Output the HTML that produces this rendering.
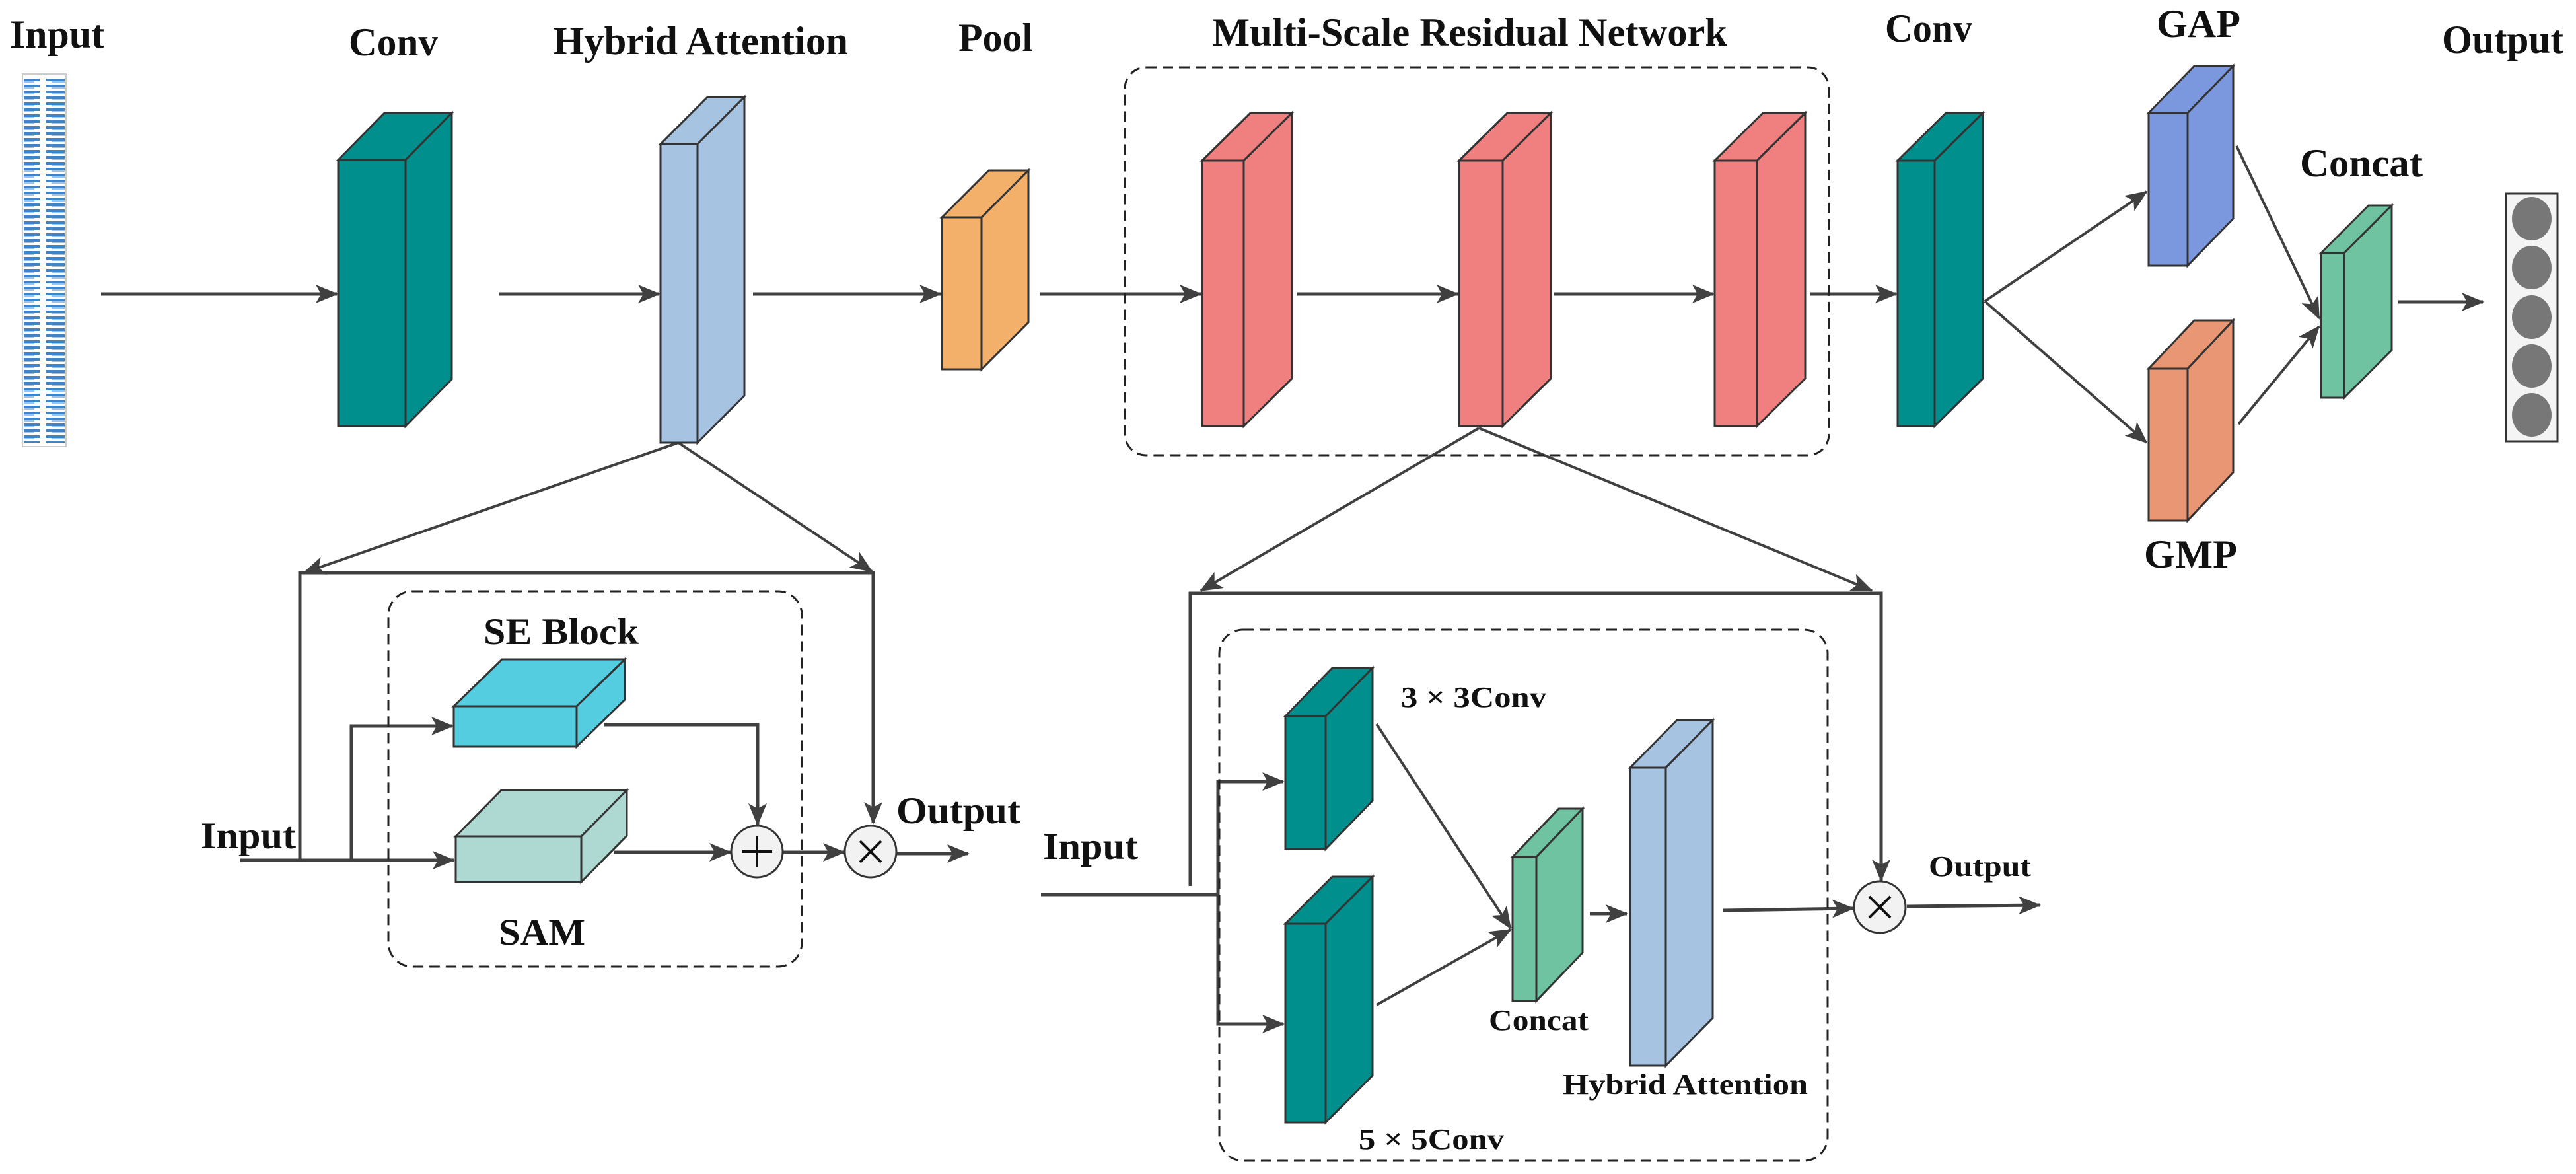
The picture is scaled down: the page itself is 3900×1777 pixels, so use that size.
<!DOCTYPE html>
<html><head><meta charset="utf-8"><style>html,body{margin:0;padding:0;background:#fff}svg{display:block}text{font-family:"Liberation Serif",serif;font-weight:bold;fill:#111}</style></head>
<body>
<svg width="3900" height="1777" viewBox="0 0 3900 1777" xmlns="http://www.w3.org/2000/svg">
<defs>
<marker id="a" markerUnits="userSpaceOnUse" markerWidth="34" markerHeight="30" refX="32" refY="14" orient="auto"><path d="M0,0 L34,14 L0,28 L8,14 z" fill="#404040"/></marker>
<pattern id="st" width="66" height="9" patternUnits="userSpaceOnUse"><rect x="4" y="2" width="56" height="4" fill="#3f84c8"/><rect x="12" y="6" width="40" height="2" fill="#9cc3ea"/></pattern>
</defs>
<g stroke="#404040" stroke-width="5" fill="none">
<!-- top main arrows -->
<line x1="153" y1="445" x2="510" y2="445" marker-end="url(#a)"/>
<line x1="755" y1="445" x2="998" y2="445" marker-end="url(#a)"/>
<line x1="1140" y1="445" x2="1424" y2="445" marker-end="url(#a)"/>
<line x1="1575" y1="445" x2="1818" y2="445" marker-end="url(#a)"/>
<line x1="1964" y1="445" x2="2207" y2="445" marker-end="url(#a)"/>
<line x1="2352" y1="445" x2="2594" y2="445" marker-end="url(#a)"/>
<line x1="2741" y1="445" x2="2871" y2="445" marker-end="url(#a)"/>
<line x1="3005" y1="456" x2="3250" y2="290" stroke-width="4" marker-end="url(#a)"/>
<line x1="3005" y1="456" x2="3250" y2="670" stroke-width="4" marker-end="url(#a)"/>
<line x1="3386" y1="221" x2="3511" y2="482" stroke-width="4" marker-end="url(#a)"/>
<line x1="3389" y1="642" x2="3511" y2="494" stroke-width="4" marker-end="url(#a)"/>
<line x1="3631" y1="457" x2="3759" y2="457" marker-end="url(#a)"/>
<!-- left sub diagram -->
<line x1="1027" y1="670" x2="460" y2="867" stroke-width="4" marker-end="url(#a)"/>
<line x1="1027" y1="670" x2="1320" y2="865" stroke-width="4" marker-end="url(#a)"/>
<polyline points="454,1302 454,867 1322,867 1322,1246" marker-end="url(#a)"/>
<line x1="364" y1="1302" x2="687" y2="1302" marker-end="url(#a)"/>
<polyline points="532,1302 532,1099 685,1099" marker-end="url(#a)"/>
<polyline points="915,1097 1147,1097 1147,1248" marker-end="url(#a)"/>
<line x1="929" y1="1290" x2="1106" y2="1290" marker-end="url(#a)"/>
<line x1="1186" y1="1290" x2="1278" y2="1290" marker-end="url(#a)"/>
<line x1="1358" y1="1292" x2="1466" y2="1292" marker-end="url(#a)"/>
<!-- right sub diagram -->
<line x1="2239" y1="648" x2="1818" y2="894" stroke-width="4" marker-end="url(#a)"/>
<line x1="2239" y1="648" x2="2834" y2="894" stroke-width="4" marker-end="url(#a)"/>
<polyline points="1802,1341 1802,898 2848,898 2848,1333" marker-end="url(#a)"/>
<line x1="1576" y1="1354" x2="1844" y2="1354"/>
<polyline points="1943,1183 1844,1183 1844,1550 1943,1550" />
<line x1="1844" y1="1183" x2="1943" y2="1183" marker-end="url(#a)"/>
<line x1="1844" y1="1550" x2="1943" y2="1550" marker-end="url(#a)"/>
<line x1="2084" y1="1096" x2="2287" y2="1405" stroke-width="4" marker-end="url(#a)"/>
<line x1="2084" y1="1521" x2="2287" y2="1407" stroke-width="4" marker-end="url(#a)"/>
<line x1="2407" y1="1383" x2="2463" y2="1383" marker-end="url(#a)"/>
<line x1="2608" y1="1378" x2="2806" y2="1375" marker-end="url(#a)"/>
<line x1="2887" y1="1372" x2="3088" y2="1370" marker-end="url(#a)"/>
</g>
<!-- dashed boxes -->
<g fill="none" stroke="#222" stroke-width="3" stroke-dasharray="16,9">
<rect x="1703" y="102" width="1066" height="587" rx="32"/>
<rect x="588" y="895" width="626" height="568" rx="36"/>
<rect x="1846" y="953" width="921" height="804" rx="36"/>
</g>
<!-- input strip -->
<rect x="34" y="112" width="66" height="564" fill="#fff" stroke="#ccc" stroke-width="2"/>
<rect x="36" y="118" width="62" height="552" fill="url(#st)"/>
<!-- blocks -->
<g stroke="#333" stroke-width="3" stroke-linejoin="miter">
<g fill="#008F8C"><rect x="512" y="242" width="102" height="403"/><polygon points="512,242 582,171 684,171 614,242"/><polygon points="614,242 684,171 684,574 614,645"/></g>
<g fill="#A6C3E2"><rect x="1000" y="218" width="56" height="452"/><polygon points="1000,218 1071,147 1127,147 1056,218"/><polygon points="1056,218 1127,147 1127,599 1056,670"/></g>
<g fill="#F2B06A"><rect x="1426" y="329" width="60" height="230"/><polygon points="1426,329 1497,258 1557,258 1486,329"/><polygon points="1486,329 1557,258 1557,488 1486,559"/></g>
<g fill="#F08080"><rect x="1820" y="243" width="63" height="402"/><polygon points="1820,243 1893,171 1956,171 1883,243"/><polygon points="1883,243 1956,171 1956,573 1883,645"/></g>
<g fill="#F08080"><rect x="2209" y="243" width="66" height="402"/><polygon points="2209,243 2282,171 2348,171 2275,243"/><polygon points="2275,243 2348,171 2348,573 2275,645"/></g>
<g fill="#F08080"><rect x="2596" y="243" width="64" height="402"/><polygon points="2596,243 2669,171 2733,171 2660,243"/><polygon points="2660,243 2733,171 2733,573 2660,645"/></g>
<g fill="#008F8C"><rect x="2873" y="243" width="56" height="402"/><polygon points="2873,243 2946,171 3002,171 2929,243"/><polygon points="2929,243 3002,171 3002,573 2929,645"/></g>
<g fill="#7B97DE"><rect x="3253" y="171" width="59" height="231"/><polygon points="3253,171 3322,100 3381,100 3312,171"/><polygon points="3312,171 3381,100 3381,331 3312,402"/></g>
<g fill="#E89673"><rect x="3253" y="558" width="59" height="230"/><polygon points="3253,558 3322,485 3381,485 3312,558"/><polygon points="3312,558 3381,485 3381,715 3312,788"/></g>
<g fill="#6FC3A0"><rect x="3514" y="383" width="35" height="219"/><polygon points="3514,383 3586,311 3621,311 3549,383"/><polygon points="3549,383 3621,311 3621,530 3549,602"/></g>
<g fill="#55CDE0"><rect x="687" y="1069" width="186" height="61"/><polygon points="687,1069 760,998 946,998 873,1069"/><polygon points="873,1069 946,998 946,1059 873,1130"/></g>
<g fill="#AED8D2"><rect x="690" y="1266" width="190" height="69"/><polygon points="690,1266 759,1196 949,1196 880,1266"/><polygon points="880,1266 949,1196 949,1265 880,1335"/></g>
<g fill="#008F8C"><rect x="1946" y="1084" width="61" height="201"/><polygon points="1946,1084 2017,1011 2078,1011 2007,1084"/><polygon points="2007,1084 2078,1011 2078,1212 2007,1285"/></g>
<g fill="#008F8C"><rect x="1946" y="1398" width="61" height="301"/><polygon points="1946,1398 2017,1327 2078,1327 2007,1398"/><polygon points="2007,1398 2078,1327 2078,1628 2007,1699"/></g>
<g fill="#6FC3A0"><rect x="2290" y="1297" width="36" height="218"/><polygon points="2290,1297 2360,1224 2396,1224 2326,1297"/><polygon points="2326,1297 2396,1224 2396,1442 2326,1515"/></g>
<g fill="#A6C3E2"><rect x="2468" y="1162" width="54" height="451"/><polygon points="2468,1162 2539,1090 2593,1090 2522,1162"/><polygon points="2522,1162 2593,1090 2593,1541 2522,1613"/></g>
</g>
<!-- output box -->
<rect x="3794" y="293" width="78" height="375" fill="#f4f4f4" stroke="#333" stroke-width="3"/>
<g fill="#777"><ellipse cx="3833" cy="331" rx="30" ry="33"/><ellipse cx="3833" cy="405" rx="30" ry="33"/><ellipse cx="3833" cy="480" rx="30" ry="33"/><ellipse cx="3833" cy="554" rx="30" ry="33"/><ellipse cx="3833" cy="628" rx="30" ry="33"/></g>
<!-- circles -->
<g stroke="#333" stroke-width="3" fill="#f2f2f2">
<circle cx="1146" cy="1289" r="39"/><circle cx="1318" cy="1289" r="39"/><circle cx="2846" cy="1373" r="39"/>
</g>
<g stroke="#111" stroke-width="4">
<line x1="1146" y1="1266" x2="1146" y2="1312"/><line x1="1123" y1="1289" x2="1169" y2="1289"/>
<line x1="1302" y1="1273" x2="1334" y2="1305"/><line x1="1334" y1="1273" x2="1302" y2="1305"/>
<line x1="2830" y1="1357" x2="2862" y2="1389"/><line x1="2862" y1="1357" x2="2830" y2="1389"/>
</g>
<!-- labels -->
<g font-size="60">
<text x="15" y="72" textLength="143" lengthAdjust="spacingAndGlyphs">Input</text>
<text x="528" y="84" textLength="135" lengthAdjust="spacingAndGlyphs">Conv</text>
<text x="837" y="82" textLength="447" lengthAdjust="spacingAndGlyphs">Hybrid Attention</text>
<text x="1451" y="77" textLength="113" lengthAdjust="spacingAndGlyphs">Pool</text>
<text x="1835" y="69" textLength="780" lengthAdjust="spacingAndGlyphs">Multi-Scale Residual Network</text>
<text x="2854" y="63" textLength="132" lengthAdjust="spacingAndGlyphs">Conv</text>
<text x="3265" y="56" textLength="127" lengthAdjust="spacingAndGlyphs">GAP</text>
<text x="3697" y="80" textLength="184" lengthAdjust="spacingAndGlyphs">Output</text>
<text x="3482" y="267" textLength="186" lengthAdjust="spacingAndGlyphs">Concat</text>
<text x="3246" y="859" textLength="141" lengthAdjust="spacingAndGlyphs">GMP</text>
</g>
<g font-size="57">
<text x="732" y="975" textLength="235" lengthAdjust="spacingAndGlyphs">SE Block</text>
<text x="755" y="1430" textLength="131" lengthAdjust="spacingAndGlyphs">SAM</text>
<text x="1357" y="1246" textLength="188" lengthAdjust="spacingAndGlyphs">Output</text>
<text x="304" y="1284" textLength="144" lengthAdjust="spacingAndGlyphs">Input</text>
<text x="1579" y="1300" textLength="144" lengthAdjust="spacingAndGlyphs">Input</text>
</g>
<g font-size="44">
<text x="2121" y="1070" textLength="220" lengthAdjust="spacingAndGlyphs">3 × 3Conv</text>
<text x="2057" y="1739" textLength="220" lengthAdjust="spacingAndGlyphs">5 × 5Conv</text>
<text x="2254" y="1559" textLength="151" lengthAdjust="spacingAndGlyphs">Concat</text>
<text x="2366" y="1656" textLength="371" lengthAdjust="spacingAndGlyphs">Hybrid Attention</text>
<text x="2920" y="1326" textLength="155" lengthAdjust="spacingAndGlyphs">Output</text>
</g>
</svg>
</body></html>
